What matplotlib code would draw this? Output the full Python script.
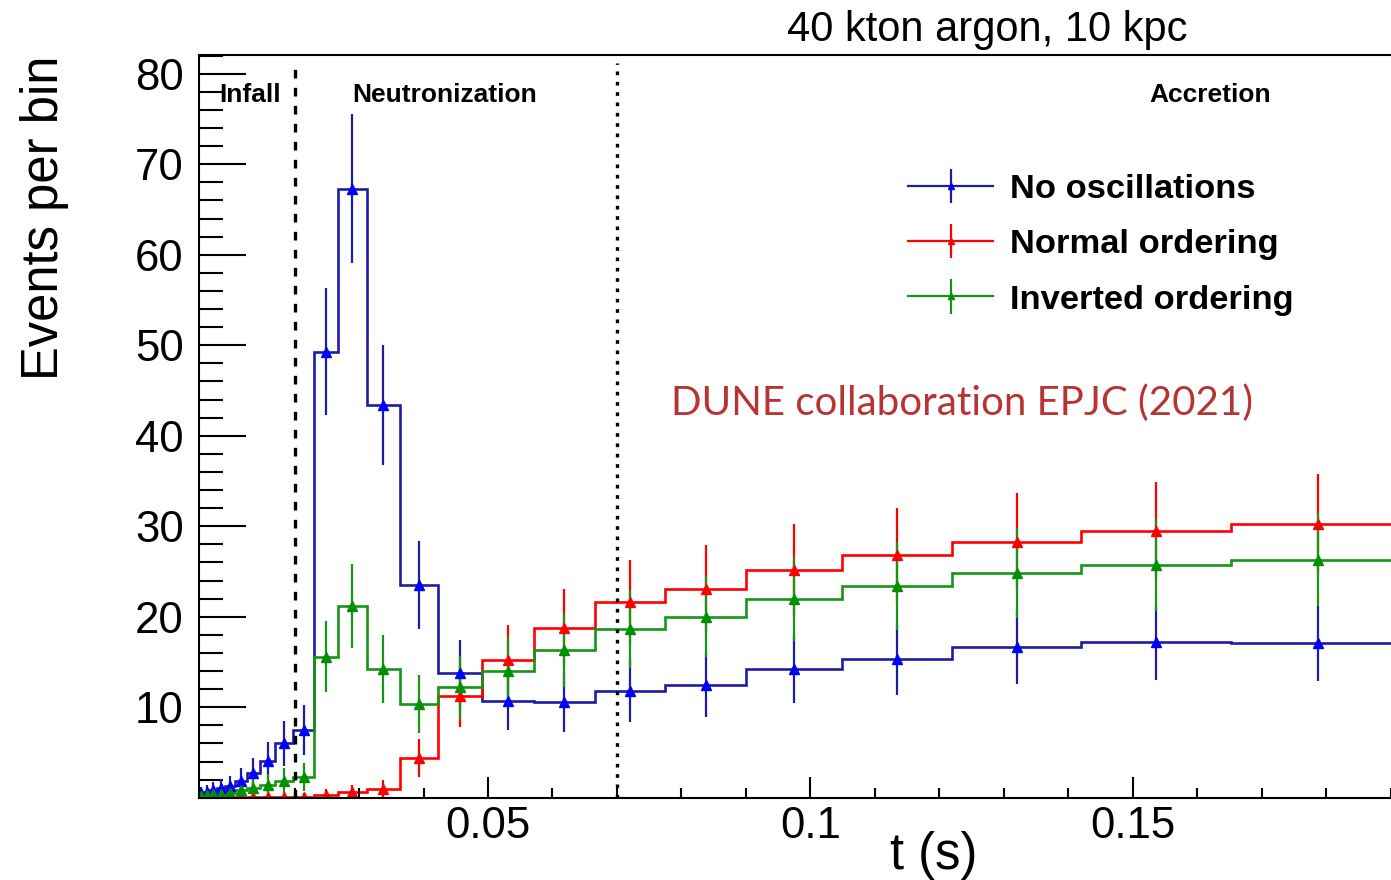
import numpy as np
import matplotlib
matplotlib.use('Agg')
import matplotlib.pyplot as plt
from matplotlib.ticker import MultipleLocator

plt.rcParams['font.family'] = 'Liberation Sans'

# log-spaced time bins (s)
bin_edges = [0.005055, 0.005882, 0.006845, 0.007966, 0.009270, 0.010787,
             0.012553, 0.014608, 0.016999, 0.019782, 0.023020, 0.026788,
             0.031173, 0.036276, 0.042214, 0.049125, 0.057167, 0.066525,
             0.077415, 0.090088, 0.104835, 0.121997, 0.141968, 0.165208,
             0.192252]

no_osc = [0.5, 0.65, 0.85, 1.05, 1.3, 1.9, 2.7, 4.1, 6.0, 7.5,
          49.3, 67.3, 43.4, 23.5, 13.75, 10.7, 10.55, 11.8, 12.5, 14.2,
          15.3, 16.7, 17.2, 17.05]
normal = [0.03, 0.03, 0.04, 0.05, 0.06, 0.07, 0.08, 0.09, 0.1, 0.12,
          0.35, 0.6, 1.0, 4.35, 11.2, 15.2, 18.7, 21.6, 23.1, 25.2,
          26.8, 28.3, 29.5, 30.25]
inverted = [0.2, 0.28, 0.36, 0.45, 0.55, 0.85, 1.04, 1.4, 1.9, 2.3,
            15.6, 21.2, 14.2, 10.35, 12.2, 14.0, 16.3, 18.6, 20.0, 21.95,
            23.4, 24.85, 25.75, 26.3]

series_labels = ['No oscillations', 'Normal ordering', 'Inverted ordering']
phase_bounds = [0.02, 0.07]
phase_names = ['Infall', 'Neutronization', 'Accretion']

edges = np.array(bin_edges)
centers = 0.5 * (edges[:-1] + edges[1:])

fig = plt.figure(figsize=(13.91, 8.8), dpi=100)
ax = fig.add_axes([0.1431, 0.0935, 0.8569, 0.844])

styles = [('#1c1ca8', '#0000ff'), ('#ff0000', '#ff0000'), ('#169616', '#009000')]
handles = []
for vals, lab, (lc, mc) in zip([no_osc, normal, inverted], series_labels, styles):
    vals = np.array(vals)
    ax.stairs(vals, edges, color=lc, lw=1.9, baseline=None)
    ax.errorbar(centers, vals, yerr=np.sqrt(vals), fmt='^', ms=6.5, mfc=mc, mec=mc,
                ecolor=lc, elinewidth=1.6, capsize=0)
    h = ax.errorbar([], [], yerr=[], fmt='-^', color=lc, ms=5, mfc=mc, mec=mc,
                    lw=1.6, elinewidth=1.6, capsize=0, label=lab)
    handles.append(h)

# phase boundaries
ax.vlines(phase_bounds[0], 0, 81.2, colors='k', lw=2.4, linestyles=(0, (2.6, 2.8)))
ax.vlines(phase_bounds[1], 0, 81.2, colors='k', lw=2.4, linestyles=(0, (1.1, 2.0)))

ax.set_xlim(0.00518, 0.19007)
ax.set_ylim(0, 82.07)

ax.set_xticks([0.05, 0.1, 0.15], labels=['0.05', '0.1', '0.15'])
ax.xaxis.set_minor_locator(MultipleLocator(0.01))
ax.set_yticks([10, 20, 30, 40, 50, 60, 70, 80])
ax.yaxis.set_minor_locator(MultipleLocator(2))
ax.tick_params(axis='both', which='both', direction='in', width=1.5, labelsize=31.5,
               top=False, right=False)
ax.tick_params(axis='y', which='major', length=34, pad=11)
ax.tick_params(axis='y', which='minor', length=17)
ax.tick_params(axis='x', which='major', length=15, pad=6)
ax.tick_params(axis='x', which='minor', length=7)
for s in ['left', 'bottom', 'top']:
    ax.spines[s].set_linewidth(1.5)
ax.spines['right'].set_visible(False)

# phase names
fig.text(250 / 1391, 1 - 95 / 880, phase_names[0], fontsize=19, fontweight='bold',
         ha='center', va='center')
fig.text(445 / 1391, 1 - 95 / 880, phase_names[1], fontsize=19, fontweight='bold',
         ha='center', va='center')
fig.text(1210 / 1391, 1 - 95 / 880, phase_names[2], fontsize=19, fontweight='bold',
         ha='center', va='center')

fig.text(987 / 1391, 1 - 30 / 880, '40 kton argon, 10 kpc', fontsize=30,
         ha='center', va='center')
fig.text(45 / 1391, 1 - 218 / 880, 'Events per bin', fontsize=36.5, rotation=90,
         ha='center', va='center')
fig.text(934 / 1391, 1 - 855 / 880, 't (s)', fontsize=36.5, ha='center', va='center')

fig.text(962 / 1391, 1 - 403 / 880, 'DUNE collaboration EPJC (2021)', fontsize=29,
         family='Lato', color='#b83434', ha='center', va='center')

ax.legend(handles=handles, loc='upper left', bbox_to_anchor=(908 / 1391, 1 - 174 / 880),
          bbox_transform=fig.transFigure, frameon=False, borderpad=0, borderaxespad=0,
          handlelength=2.47, handletextpad=0.5, labelspacing=0.70,
          prop={'size': 24.8, 'weight': 'bold'})

fig.savefig('out.png', dpi=100)
